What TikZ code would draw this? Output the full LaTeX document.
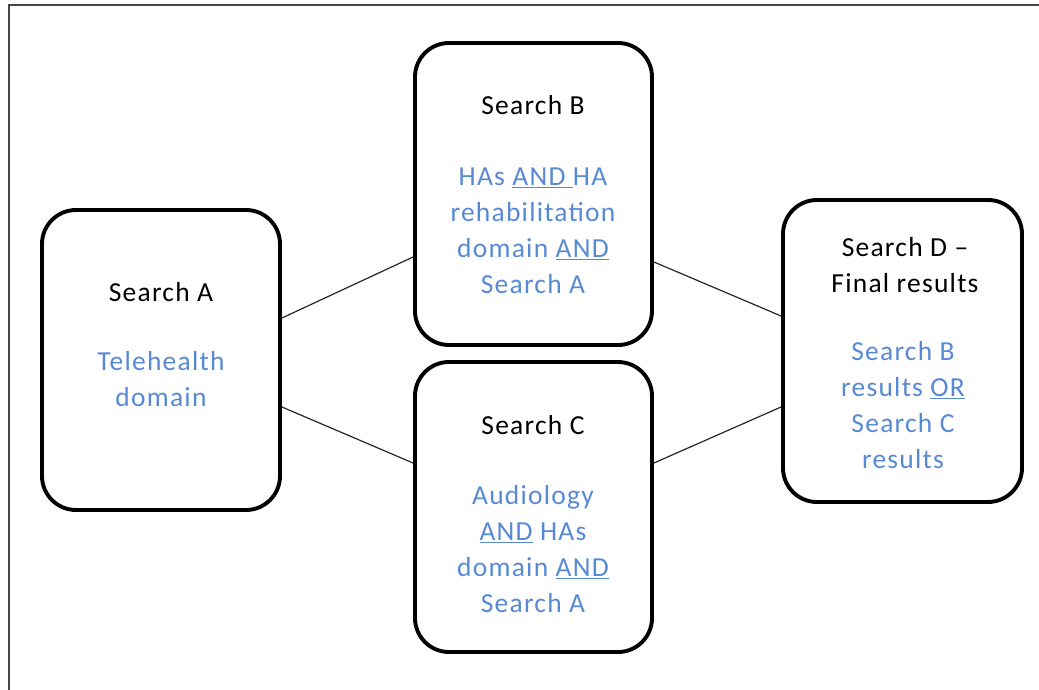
\documentclass[tikz,border=0pt]{standalone}
\usepackage{fontspec}
\setmainfont{Carlito}[LetterSpace=4.5]
\definecolor{bodyblue}{RGB}{88,138,212}
\definecolor{framegray}{RGB}{70,70,70}
\begin{document}
\begin{tikzpicture}[x=1pt,y=-1pt,
  box/.style={draw=black,line width=3.9pt,rounded corners=34pt,inner sep=0pt},
  title/.style={font=\fontsize{27.5}{36}\selectfont,text=black,align=center,inner sep=0pt},
  body/.style={font=\fontsize{27.5}{36}\selectfont,text=bodyblue,align=center,inner sep=0pt},
  link/.style={draw=black!85,line width=1.2pt}]
\useasboundingbox (0,0) rectangle (1039,690);
% frame
\coordinate (f1) at (9,690);
\coordinate (f2) at (9,5);
\coordinate (f3) at (1039,5);
\draw[framegray,line width=2.2pt] (f1) -- (f2) -- (f3);
% boxes
\node[box,minimum width=238pt,minimum height=300pt] (A) at (161,360) {};
\node[box,minimum width=237pt,minimum height=302pt] (B) at (533.5,194) {};
\node[box,minimum width=237pt,minimum height=290pt] (C) at (533.5,507) {};
\node[box,minimum width=239pt,minimum height=302pt] (D) at (902.5,351) {};
% texts
\node[title] (At) at (161,292) {Search A};
\node[body] (Ab) at (161,379) {Telehealth\\domain};
\node[title] (Bt) at (533,105) {Search B};
\node[body] (Bb) at (533,231) {HAs \underline{AND }HA\\rehabilitation\\domain \underline{AND}\\Search A};
\node[title] (Ct) at (533,425) {Search C};
\node[body] (Cb) at (533,549) {Audiology\\\underline{AND} HAs\\domain \underline{AND}\\Search A};
\node[title] (Dt) at (905,265) {Search D --\\Final results};
\node[body] (Db) at (903,405) {Search B\\results \underline{OR}\\Search C\\results};
% connectors
\draw[link] ([yshift=42pt]A.east) -- ([yshift=-63pt]B.west);
\draw[link] ([yshift=-47pt]A.east) -- ([yshift=44pt]C.west);
\draw[link] ([yshift=-68pt]B.east) -- ([yshift=35pt]D.west);
\draw[link] ([yshift=44pt]C.east) -- ([yshift=-56pt]D.west);
\end{tikzpicture}
\end{document}
